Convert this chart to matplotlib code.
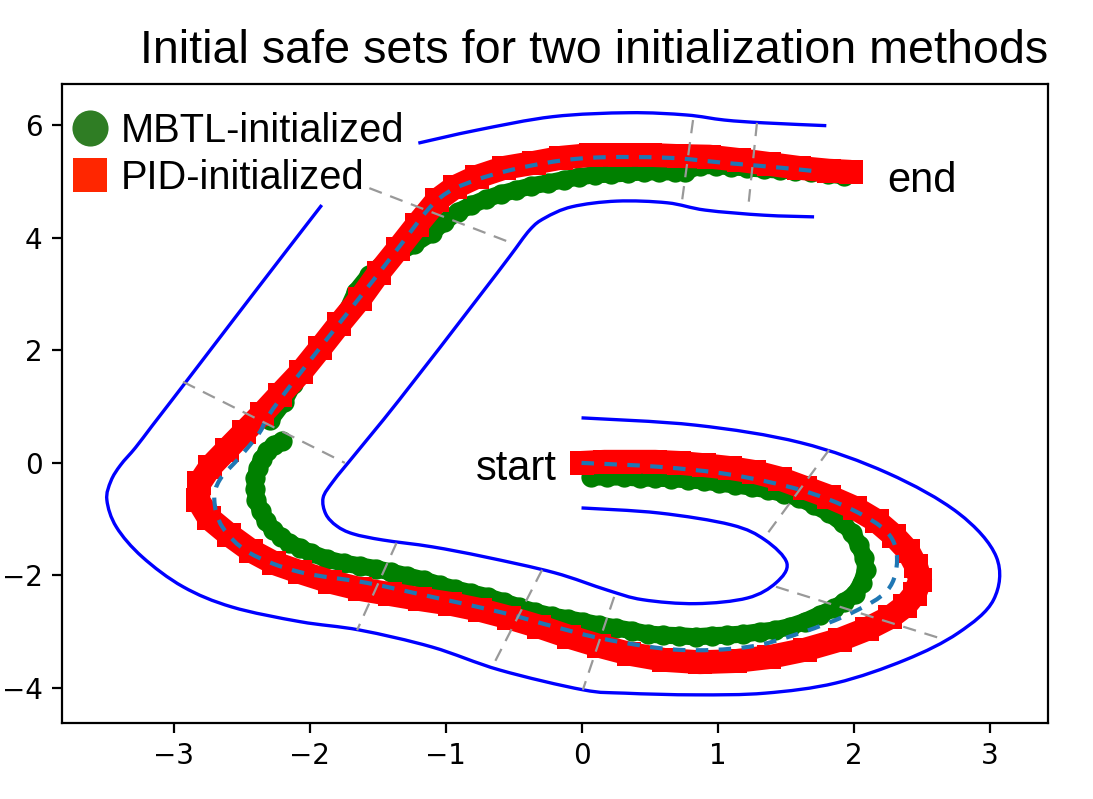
import matplotlib
matplotlib.use("Agg")
import matplotlib.pyplot as plt
from matplotlib.lines import Line2D
from matplotlib.path import Path
from matplotlib.patches import PathPatch

# ---- track geometry ----
center_x = [0.00, 0.57, 1.10, 1.61, 1.99, 2.25, 2.32, 2.25, 1.99, 1.61, 1.22, 0.71, 0.19, -0.20, -0.58,
            -1.10, -1.58, -2.07, -2.44, -2.64, -2.70, -2.66, -2.51, -2.37, -2.22, -1.49, -1.34, -1.06,
            -0.77, -0.35, 0.07, 0.63, 1.05, 1.48, 1.76]
center_y = [0.00, -0.07, -0.21, -0.48, -0.83, -1.24, -1.72, -2.26, -2.66, -3.02, -3.27, -3.32, -3.14,
            -2.91, -2.66, -2.38, -2.13, -1.94, -1.60, -1.14, -0.66, -0.30, 0.11, 0.53, 1.12, 3.37, 3.84,
            4.67, 5.03, 5.29, 5.42, 5.42, 5.33, 5.24, 5.17]

outer_a_x = [0.00, 0.84, 1.61, 2.25, 2.77, 3.05, 3.03, 2.77, 2.38, 1.87, 1.35, 0.84, 0.32, 0.01, -0.60,
             -1.10, -1.63, -2.07, -2.57, -2.93, -3.23, -3.42, -3.49, -3.46, -3.39, -3.28, -3.16, -3.01,
             -2.81, -2.56, -2.29, -2.07, -1.91]
outer_a_y = [0.80, 0.67, 0.36, -0.18, -0.89, -1.67, -2.43, -3.02, -3.50, -3.91, -4.09, -4.12, -4.09,
             -4.03, -3.68, -3.27, -2.97, -2.82, -2.56, -2.20, -1.67, -1.14, -0.66, -0.32, -0.04, 0.27,
             0.65, 1.12, 1.75, 2.54, 3.39, 4.08, 4.58]
outer_b_x = [-1.20, -0.77, -0.21, 0.35, 0.77, 1.05, 1.34, 1.80]
outer_b_y = [5.68, 5.91, 6.15, 6.22, 6.18, 6.09, 6.04, 5.99]

inner_x = [0.00, 0.57, 1.10, 1.35, 1.51, 1.43, 1.22, 0.84, 0.45, 0.19, -0.20, -0.71, -1.10, -1.46, -1.68,
           -1.80, -1.88, -1.90, -1.83, -1.71, -1.34, -0.77, -0.53, -0.38, -0.27, -0.07, 0.26, 0.63, 0.91,
           1.34, 1.71]
inner_y = [-0.80, -0.89, -1.10, -1.37, -1.78, -2.13, -2.40, -2.50, -2.43, -2.26, -1.95, -1.67, -1.49,
           -1.37, -1.26, -1.12, -0.91, -0.62, -0.34, 0.02, 1.12, 2.90, 3.66, 4.14, 4.35, 4.55, 4.65, 4.62,
           4.49, 4.40, 4.37]

# cross-track segment lines: (x0, y0, x1, y1)
seg_x0 = [1.82, 1.43, 0.24, -0.29, -1.36, -2.93, -1.56, 0.82, 1.29]
seg_y0 = [0.23, -2.20, -2.38, -1.90, -1.42, 1.44, 4.88, 6.09, 6.04]
seg_x1 = [1.35, 2.67, 0.01, -0.66, -1.65, -1.74, -0.54, 0.74, 1.23]
seg_y1 = [-1.31, -3.14, -4.03, -3.64, -2.97, 0.00, 3.93, 4.67, 4.64]

# ---- PID-initialized safe set ----
pid_x = [0.00, 0.17, 0.35, 0.54, 0.72, 0.90, 1.09, 1.27, 1.46, 1.64, 1.82, 2.01, 2.17, 2.30, 2.40, 2.46,
         2.49, 2.45, 2.38, 2.27, 2.10, 1.90, 1.64, 1.38, 1.13, 0.87, 0.61, 0.35, 0.13, -0.09, -0.31,
         -0.53, -0.75, -0.97, -1.19, -1.41, -1.63, -1.85, -2.07, -2.26, -2.43, -2.59, -2.74, -2.82,
         -2.81, -2.73, -2.61, -2.48, -2.35, -2.22, -2.06, -1.92, -1.78, -1.63, -1.49, -1.35, -1.21,
         -1.06, -0.93, -0.77, -0.57, -0.35, -0.15, 0.07, 0.28, 0.50, 0.72, 0.94, 1.16, 1.38, 1.60,
         1.82, 1.98]
pid_y = [0.00, 0.02, 0.02, 0.02, 0.00, -0.04, -0.09, -0.16, -0.28, -0.44, -0.60, -0.80, -1.03, -1.30,
         -1.56, -1.83, -2.08, -2.33, -2.54, -2.74, -2.95, -3.14, -3.32, -3.45, -3.52, -3.54, -3.50,
         -3.39, -3.25, -3.09, -2.91, -2.75, -2.61, -2.50, -2.42, -2.33, -2.24, -2.11, -1.94, -1.78,
         -1.56, -1.28, -0.98, -0.66, -0.36, -0.07, 0.23, 0.55, 0.87, 1.21, 1.62, 2.04, 2.47, 2.91,
         3.38, 3.80, 4.23, 4.67, 4.90, 5.08, 5.24, 5.33, 5.42, 5.47, 5.47, 5.47, 5.45, 5.44, 5.38,
         5.31, 5.24, 5.19, 5.17]

# ---- MBTL-initialized safe set (two visible pieces) ----
mbtl1_x = [0.07, 0.19, 0.31, 0.43, 0.54, 0.66, 0.78, 0.90, 1.01, 1.13, 1.25, 1.37, 1.49, 1.60, 1.71,
           1.82, 1.92, 1.99, 2.04, 2.08, 2.09, 2.06, 2.01, 1.93, 1.86, 1.75, 1.64, 1.53, 1.42, 1.31,
           1.19, 1.07, 0.96, 0.84, 0.72, 0.60, 0.49, 0.37, 0.25, 0.13, 0.01, -0.10, -0.22, -0.34,
           -0.46, -0.57, -0.69, -0.81, -0.93, -1.04, -1.16, -1.28, -1.40, -1.51, -1.63, -1.75, -1.87,
           -1.99, -2.07, -2.15, -2.21, -2.27, -2.32, -2.36, -2.39, -2.40, -2.40, -2.38, -2.35, -2.31,
           -2.26, -2.20]
mbtl1_y = [-0.25, -0.25, -0.25, -0.27, -0.27, -0.28, -0.30, -0.32, -0.36, -0.39, -0.43, -0.48, -0.55,
           -0.62, -0.75, -0.89, -1.07, -1.24, -1.46, -1.69, -1.90, -2.13, -2.33, -2.47, -2.58, -2.70,
           -2.82, -2.91, -2.97, -3.00, -3.04, -3.06, -3.07, -3.09, -3.07, -3.06, -3.04, -2.98, -2.93,
           -2.88, -2.82, -2.77, -2.72, -2.65, -2.56, -2.47, -2.38, -2.31, -2.24, -2.17, -2.08, -2.01,
           -1.94, -1.88, -1.83, -1.78, -1.71, -1.60, -1.51, -1.42, -1.31, -1.19, -1.03, -0.85, -0.66,
           -0.46, -0.27, -0.09, 0.07, 0.21, 0.32, 0.39]
mbtl2_x = [-2.29, -2.19, -2.12, -2.03, -1.93, -1.83, -1.72, -1.66, -1.56, -1.41, -1.23, -1.10, -1.01,
           -0.91, -0.81, -0.70, -0.59, -0.48, -0.37, -0.25, -0.13, -0.02, 0.10, 0.22, 0.34, 0.46, 0.57,
           0.69, 0.76, 0.87, 0.99, 1.10, 1.22, 1.34, 1.46, 1.57, 1.69, 1.81, 1.93]
mbtl2_y = [0.76, 1.08, 1.40, 1.72, 2.06, 2.38, 2.72, 3.04, 3.34, 3.64, 3.89, 4.09, 4.28, 4.46, 4.58,
           4.69, 4.78, 4.85, 4.92, 4.97, 5.03, 5.08, 5.12, 5.13, 5.15, 5.17, 5.17, 5.17, 5.17, 5.28,
           5.28, 5.26, 5.24, 5.22, 5.20, 5.19, 5.17, 5.13, 5.10]

labels = ["MBTL-initialized", "PID-initialized"]
title = "Initial safe sets for two initialization methods"


def smooth_curve(ax, xs, ys, **kw):
    """Draw a smooth curve through the given points (cubic Bezier segments)."""
    pts = list(zip(xs, ys))
    n = len(pts)
    verts = [pts[0]]
    codes = [Path.MOVETO]
    for i in range(n - 1):
        p0 = pts[i - 1] if i > 0 else pts[i]
        p1 = pts[i]
        p2 = pts[i + 1]
        p3 = pts[i + 2] if i + 2 < n else pts[i + 1]
        c1 = (p1[0] + (p2[0] - p0[0]) / 6.0, p1[1] + (p2[1] - p0[1]) / 6.0)
        c2 = (p2[0] - (p3[0] - p1[0]) / 6.0, p2[1] - (p3[1] - p1[1]) / 6.0)
        verts += [c1, c2, p2]
        codes += [Path.CURVE4] * 3
    ax.add_patch(PathPatch(Path(verts, codes), fill=False, **kw))


# ---- figure ----
fig = plt.figure(figsize=(1093 / 200, 799 / 200), dpi=200)
ax = fig.add_axes([62 / 1093, 1 - 723 / 799, (1048 - 62) / 1093, (723 - 84) / 799])

for bx, by in [(outer_a_x, outer_a_y), (outer_b_x, outer_b_y), (inner_x, inner_y)]:
    smooth_curve(ax, bx, by, edgecolor="#0000ff", lw=1.2, zorder=2)

for gx, gy in [(mbtl1_x, mbtl1_y), (mbtl2_x, mbtl2_y)]:
    ax.plot(gx, gy, "-", color="green", lw=6.2, solid_capstyle="round", solid_joinstyle="round", zorder=3)
    ax.plot(gx, gy, "o", color="green", ms=7.3, mew=0, zorder=3)

ax.plot(pid_x, pid_y, "-", color="red", lw=8.6, solid_capstyle="butt", solid_joinstyle="round", zorder=4)
ax.plot(pid_x, pid_y, "s", color="red", ms=8.4, mew=0, zorder=4)

smooth_curve(ax, center_x, center_y, edgecolor="#1f77b4", lw=1.5, ls=(0, (3, 2.5)), zorder=5)

for x0, y0, x1, y1 in zip(seg_x0, seg_y0, seg_x1, seg_y1):
    ax.plot([x0, x1], [y0, y1], color="#999999", lw=0.8, ls=(0, (6, 4)), zorder=6)

font = "Liberation Sans"
ax.text(-0.78, -0.30, "start", fontsize=15, family=font, ha="left", va="baseline", zorder=7)
ax.text(2.25, 4.81, "end", fontsize=15, family=font, ha="left", va="baseline", zorder=7)

handles = [Line2D([], [], marker="o", ls="none", color="#2f7d24", ms=13, mew=0),
           Line2D([], [], marker="s", ls="none", color="#ff2600", ms=12, mew=0)]
ax.legend(handles, labels, loc="upper left", bbox_to_anchor=(0.0, 0.968), frameon=False,
          prop={"family": font, "size": 14.35}, handlelength=1.0, handletextpad=0.27,
          borderpad=0.2, borderaxespad=0.0, labelspacing=0.22)

ax.set_title(title, loc="right", fontsize=16.8, family=font, pad=7.5)

ax.set_xlim(-3.82, 3.43)
ax.set_ylim(-4.62, 6.73)
ax.set_xticks([-3, -2, -1, 0, 1, 2, 3])
ax.set_yticks([-4, -2, 0, 2, 4, 6])

fig.savefig("out.png", dpi=200)
